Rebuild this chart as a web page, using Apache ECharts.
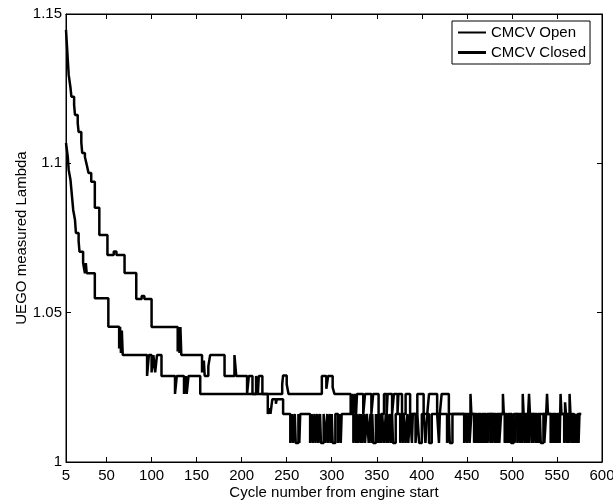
<!DOCTYPE html>
<html>
<head>
<meta charset="utf-8">
<script src="https://cdn.jsdelivr.net/npm/echarts@6.0.0/dist/echarts.min.js"></script>
<style>
html,body{margin:0;padding:0;background:#fff;}
#chart{width:613px;height:502px;}
</style>
</head>
<body>
<div id="chart"></div>
<script>
// ---- Data (cycle, lambda) change points; held until next point ----
var seriesNames = ['CMCV Open', 'CMCV Closed'];
var xTickLabels = [5, 50, 100, 150, 200, 250, 300, 350, 400, 450, 500, 550, 600];
var xTickMarks = [50, 100, 150, 200, 250, 300, 350, 400, 450, 500, 550];

var cmcvOpen = [
  [5,1.1447],[6,1.1397],[7,1.1346],[8,1.1296],[10,1.1253],[11,1.1223],[14,1.1196],[15,1.1162],
  [18,1.1135],[19,1.1105],[22,1.1070],[23,1.1035],[26,1.1021],[28,1.0995],[30,1.0968],[33,1.0938],
  [37,1.0851],[42,1.0760],[51,1.0693],[58,1.0705],[61,1.0693],[70,1.0633],[83,1.0546],[89,1.0556],
  [92,1.0546],[100,1.0452],[129,1.0370],[130,1.0452],[131,1.0365],[132,1.0452],[133,1.0358],
  [156,1.0300],[158,1.0340],[159,1.0288],[163,1.0320],[165,1.0358],[181,1.0288],[192,1.0358],
  [194,1.0288],[206,1.0228],[208,1.0288],[212,1.0228],[216,1.0288],[218,1.0228],[219,1.0288],
  [223,1.0228],[245,1.0260],[246,1.0290],[250,1.0260],[252,1.0228],[289,1.0288],[294,1.0245],
  [296,1.0288],[301,1.0250],[303,1.0228],
  [321,1.0161],[323,1.0228],[324,1.0161],[326,1.0228],[327,1.0161],[328,1.0228],[335,1.0161],
  [337,1.0228],[344,1.0161],[346,1.0228],[352,1.0161],[353,1.0064],[355,1.0161],[358,1.0228],
  [361,1.0161],[362,1.0228],[367,1.0161],[369,1.0228],[373,1.0161],[374,1.0228],[378,1.0161],
  [382,1.0228],[387,1.0161],[389,1.0064],[390,1.0161],[395,1.0228],[402,1.0161],[404,1.0064],
  [406,1.0161],[408,1.0228],[417,1.0161],[419,1.0064],[420,1.0161],[422,1.0228],[430,1.0161],
  [454,1.0228],[455,1.0161],[461,1.0064],[462,1.0161],[466,1.0064],[467,1.0161],[471,1.0064],
  [472,1.0161],[476,1.0064],[477,1.0161],[482,1.0064],[483,1.0161],[490,1.0228],
  [491,1.0161],[495,1.0064],[496,1.0161],[500,1.0064],[501,1.0161],[503,1.0064],[505,1.0161],
  [512,1.0228],[513,1.0161],[517,1.0064],[518,1.0161],[519,1.0228],[520,1.0161],
  [522,1.0064],[523,1.0161],[528,1.0064],[529,1.0161],[536,1.0064],[538,1.0161],[539,1.0228],
  [540,1.0161],[544,1.0064],[545,1.0161],[549,1.0064],[550,1.0161],[553,1.0064],
  [554,1.0228],[555,1.0161],[559,1.0200],[560,1.0161],[564,1.0228],[565,1.0161],[569,1.0064],
  [570,1.0161],[572,1.0064],[573,1.0161],[577,1.0161]
];

var cmcvClosed = [
  [5,1.1068],[6,1.1045],[7,1.1021],[8,1.0978],[10,1.0944],[11,1.0911],[13,1.0844],[15,1.0810],
  [16,1.0767],[19,1.0740],[20,1.0704],[24,1.0666],[26,1.0632],[27,1.0666],[28,1.0632],[30,1.0632],
  [37,1.0548],[52,1.0453],[64,1.0380],[65,1.0453],[66,1.0365],[67,1.0440],[68,1.0358],
  [95,1.0288],[97,1.0358],[100,1.0300],[102,1.0358],[104,1.0300],[106,1.0358],[111,1.0288],
  [126,1.0228],[128,1.0288],[136,1.0228],[138,1.0288],[139,1.0228],[141,1.0288],[154,1.0228],
  [229,1.0161],[231,1.0180],[232,1.0161],[234,1.0210],[238,1.0195],[239,1.0210],[246,1.0161],
  [254,1.0064],[256,1.0161],[257,1.0064],[259,1.0161],[260,1.0064],[263,1.0161],[264,1.0064],[265,1.0161],
  [276,1.0064],[278,1.0161],[279,1.0064],[281,1.0161],[282,1.0064],[284,1.0161],
  [285,1.0064],[287,1.0161],[288,1.0064],[291,1.0161],
  [293,1.0064],[295,1.0161],[296,1.0064],[298,1.0161],[299,1.0064],[300,1.0161],[301,1.0064],[304,1.0161],
  [307,1.0064],[309,1.0161],[310,1.0064],[311,1.0161],
  [324,1.0064],[326,1.0161],[327,1.0064],[328,1.0161],[329,1.0064],[331,1.0161],[332,1.0064],
  [333,1.0161],[334,1.0064],[336,1.0161],[337,1.0064],[339,1.0161],
  [341,1.0064],[343,1.0161],[344,1.0064],[345,1.0161],[346,1.0064],[349,1.0161],[350,1.0064],
  [351,1.0161],[352,1.0064],[354,1.0161],[355,1.0064],[356,1.0161],
  [358,1.0064],[360,1.0161],[361,1.0064],[362,1.0161],[363,1.0064],[365,1.0161],[366,1.0064],
  [367,1.0161],[368,1.0064],[371,1.0161],
  [376,1.0064],[378,1.0161],[379,1.0064],[380,1.0161],[382,1.0064],[384,1.0161],[385,1.0064],[387,1.0161],
  [393,1.0064],[395,1.0161],[397,1.0064],[400,1.0161],
  [408,1.0064],[411,1.0161],
  [428,1.0064],[430,1.0161],[431,1.0064],[434,1.0161],
  [447,1.0064],[449,1.0161],[450,1.0064],[452,1.0161],[453,1.0064],[455,1.0161],
  [458,1.0064],[459,1.0161],[460,1.0064],[462,1.0161],[463,1.0064],[464,1.0161],[465,1.0064],
  [467,1.0161],[468,1.0064],[469,1.0161],[470,1.0064],[472,1.0161],[473,1.0064],[475,1.0161],
  [478,1.0064],[480,1.0161],[481,1.0064],[483,1.0161],[484,1.0064],[485,1.0161],[486,1.0064],[488,1.0161],
  [492,1.0064],[493,1.0161],[494,1.0064],[496,1.0161],[497,1.0064],[498,1.0161],[499,1.0064],[502,1.0161],
  [506,1.0064],[508,1.0161],[509,1.0064],[510,1.0161],[511,1.0064],[513,1.0161],[514,1.0064],
  [515,1.0161],[516,1.0064],[518,1.0161],[519,1.0064],[521,1.0161],
  [524,1.0064],[526,1.0161],[527,1.0064],[529,1.0161],[530,1.0064],[531,1.0161],[532,1.0064],[535,1.0161],
  [543,1.0064],[545,1.0161],[546,1.0064],[547,1.0161],[548,1.0064],[550,1.0161],[551,1.0064],[552,1.0161],
  [558,1.0064],[560,1.0161],[561,1.0064],[562,1.0161],[563,1.0064],[565,1.0161],[566,1.0064],
  [567,1.0161],[568,1.0064],[570,1.0161],[571,1.0064],[573,1.0161],[574,1.0064],[575,1.0161],[576,1.0161]
];

var FONT = 'Liberation Sans, Arial, Helvetica, sans-serif';
var chart = echarts.init(document.getElementById('chart'), null, {renderer: 'canvas'});

function xAxisCfg(pos, showLabel) {
  return {
    type: 'value', position: pos, min: 5, max: 600,
    axisLine: {show: true, lineStyle: {color: '#000', width: 1}},
    axisTick: {show: true, inside: true, length: 5, lineStyle: {color: '#000'}, customValues: xTickMarks},
    axisLabel: {show: showLabel, color: '#000', fontSize: 15, fontFamily: FONT, margin: 6,
      customValues: xTickLabels, showMinLabel: true, showMaxLabel: true},
    splitLine: {show: false}
  };
}
function yAxisCfg(pos, showLabel) {
  return {
    type: 'value', position: pos, min: 1, max: 1.15, interval: 0.05,
    axisLine: {show: true, lineStyle: {color: '#000', width: 1}},
    axisTick: {show: true, inside: true, length: 5, lineStyle: {color: '#000'}},
    axisLabel: {show: showLabel, color: '#000', fontSize: 15, fontFamily: FONT, margin: 4},
    splitLine: {show: false}
  };
}

var xb = xAxisCfg('bottom', true);
xb.name = 'Cycle number from engine start';
xb.nameLocation = 'middle';
xb.nameGap = 23;
xb.nameMoveOverlap = false;
xb.nameTextStyle = {color: '#000', fontSize: 15, fontFamily: FONT};
var xt = xAxisCfg('top', false);
var yl = yAxisCfg('left', true);
yl.name = 'UEGO measured Lambda';
yl.nameLocation = 'middle';
yl.nameGap = 37;
yl.nameMoveOverlap = false;
yl.nameTextStyle = {color: '#000', fontSize: 15, fontFamily: FONT};
var yr = yAxisCfg('right', false);

chart.setOption({
  animation: false,
  backgroundColor: '#fff',
  grid: {left: 66, right: 11, top: 14, bottom: 40, containLabel: false, outerBoundsMode: 'none',
    show: true, borderColor: '#000', borderWidth: 1, backgroundColor: 'transparent'},
  legend: {
    left: 452, top: 21, orient: 'vertical',
    backgroundColor: '#fff', borderColor: '#000', borderWidth: 1,
    padding: [4, 4, 4, 6], itemGap: 5, itemWidth: 28, itemHeight: 4, itemTextGap: 4,
    textStyle: {color: '#000', fontSize: 15, fontFamily: FONT},
    data: [
      {name: seriesNames[0], icon: 'path://M0,0H28V2H0Z'},
      {name: seriesNames[1], icon: 'path://M0,0H28V3H0Z'}
    ]
  },
  xAxis: [xb, xt],
  yAxis: [yl, yr],
  series: [
    {name: seriesNames[0], type: 'line', step: 'end', data: cmcvOpen, symbol: 'none',
      xAxisIndex: 0, yAxisIndex: 0, color: '#000',
      lineStyle: {color: '#000', width: 2.5}, itemStyle: {color: '#000'}},
    {name: seriesNames[1], type: 'line', step: 'end', data: cmcvClosed, symbol: 'none',
      xAxisIndex: 0, yAxisIndex: 0, color: '#000',
      lineStyle: {color: '#000', width: 2.5}, itemStyle: {color: '#000'}}
  ]
});
</script>
</body>
</html>
